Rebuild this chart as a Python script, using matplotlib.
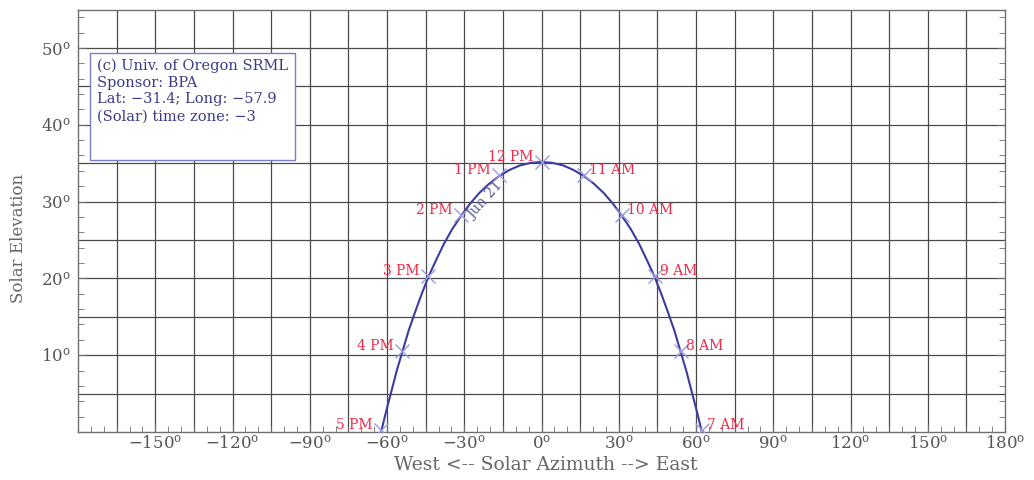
import matplotlib
matplotlib.use('Agg')
import matplotlib.pyplot as plt
from matplotlib.patches import Rectangle
import numpy as np

plt.rcParams['mathtext.fontset'] = 'dejavuserif'
plt.rcParams['font.family'] = ['DejaVu Serif']

# ---------------- data ----------------
curve_azimuth = [-62.3, -60.4, -58.3, -56.2, -53.9, -51.6, -49.1, -46.5, -43.8, -40.9,
                 -37.9, -34.7, -31.3, -27.8, -24.2, -20.4, -16.5, -12.5, -8.4, -4.2, 0.0,
                 4.2, 8.4, 12.5, 16.5, 20.4, 24.2, 27.8, 31.3, 34.7, 37.9,
                 40.9, 43.8, 46.5, 49.1, 51.6, 53.9, 56.2, 58.3, 60.4, 62.3]
curve_elevation = [0.0, 2.6, 5.3, 8.0, 10.6, 13.2, 15.6, 18.0, 20.3, 22.4,
                   24.5, 26.4, 28.1, 29.7, 31.1, 32.3, 33.3, 34.1, 34.7, 35.04, 35.15,
                   35.04, 34.7, 34.1, 33.3, 32.3, 31.1, 29.7, 28.1, 26.4, 24.5,
                   22.4, 20.3, 18.0, 15.6, 13.2, 10.6, 8.0, 5.3, 2.6, 0.0]

hour_labels = ['7 AM', '8 AM', '9 AM', '10 AM', '11 AM', '12 PM',
               '1 PM', '2 PM', '3 PM', '4 PM', '5 PM']
hour_azimuth = [62.2, 54.1, 44.0, 31.2, 16.4, 0.0, -16.6, -31.2, -44.2, -54.2, -62.4]
hour_elevation = [0.3, 10.5, 20.3, 28.2, 33.4, 35.15, 33.4, 28.2, 20.3, 10.5, 0.3]

day_label = 'Jun 21'

x_ticks = [-150, -120, -90, -60, -30, 0, 30, 60, 90, 120, 150, 180]
x_tick_labels = [r'$-150^{\rm o}$', r'$-120^{\rm o}$', r'$-90^{\rm o}$', r'$-60^{\rm o}$',
                 r'$-30^{\rm o}$', r'$0^{\rm o}$', r'$30^{\rm o}$', r'$60^{\rm o}$',
                 r'$90^{\rm o}$', r'$120^{\rm o}$', r'$150^{\rm o}$', r'$180^{\rm o}$']
y_ticks = [10, 20, 30, 40, 50]
y_tick_labels = [r'$10^{\rm o}$', r'$20^{\rm o}$', r'$30^{\rm o}$', r'$40^{\rm o}$', r'$50^{\rm o}$']

info_lines = ['(c) Univ. of Oregon SRML', 'Sponsor: BPA',
              'Lat: \u221231.4; Long: \u221257.9', '(Solar) time zone: \u22123']

# ---------------- figure ----------------
fig = plt.figure(figsize=(10.34, 4.80), dpi=100)
ax = fig.add_axes([78 / 1034, 1 - 432 / 480, 927 / 1034, 422.5 / 480])
ax.set_xlim(-180, 180)
ax.set_ylim(0, 55)

grid_c = '#4a4a4a'
for gx in np.arange(-165, 180, 15):
    ax.axvline(gx, color=grid_c, lw=0.9, zorder=1)
for gy in np.arange(5, 55, 5):
    ax.axhline(gy, color=grid_c, lw=0.9, zorder=1)

# info box
ax.add_patch(Rectangle((0.0129, 0.644), 0.221, 0.253, transform=ax.transAxes,
                       facecolor='white', edgecolor='#7c7cc4', lw=1.0, zorder=3))
for i, line in enumerate(info_lines):
    ax.text(0.020, 0.866 - i * 0.0395, line, transform=ax.transAxes,
            fontsize=10.5, color='#3c3c8a', va='center', ha='left', zorder=4)

# sun path
ax.plot(curve_azimuth, curve_elevation, color='#3c3ca0', lw=1.5, zorder=5)
ax.plot(hour_azimuth, hour_elevation, ls='none', marker='x', ms=10, mew=1.0,
        color='#9a9ae2', zorder=6)
for lab, az, el in zip(hour_labels, hour_azimuth, hour_elevation):
    if az > 0:
        off, ha = (4, 3.6), 'left'
    else:
        off, ha = (-6, 3.6), 'right'
    ax.annotate(lab, (az, el), xytext=off, textcoords='offset points',
                ha=ha, va='center', fontsize=10, color='#ee2a48', zorder=7)

ax.text(-21.8, 30.2, day_label, rotation=48, ha='center', va='center',
        fontsize=10, color='#5a5a96', zorder=7, rotation_mode='anchor')

# ticks
ax.set_xticks(x_ticks)
ax.set_xticklabels(x_tick_labels)
ax.set_xticks(np.arange(-180, 181, 5), minor=True)
ax.set_yticks(y_ticks)
ax.set_yticklabels(y_tick_labels)
ax.set_yticks(np.arange(0, 56, 2), minor=True)
ax.tick_params(which='both', direction='in', top=False, right=True,
               color='#707070', labelcolor='#555555', labelsize=12)
ax.tick_params(axis='x', which='major', length=6, pad=2)
ax.tick_params(axis='y', which='major', length=6, pad=5)
ax.tick_params(which='minor', length=4)
for s in ax.spines.values():
    s.set_color('#707070')
    s.set_linewidth(1.0)

ax.set_xlabel('West <-- Solar Azimuth --> East', fontsize=13.5, color='#666666')
ax.xaxis.set_label_coords(0.505, -0.057)
ax.xaxis.label.set_va('top')
ax.set_ylabel('Solar Elevation', fontsize=12, color='#666666')
ax.yaxis.set_label_coords(-0.055, 0.459)

fig.savefig('out.png', dpi=100)
